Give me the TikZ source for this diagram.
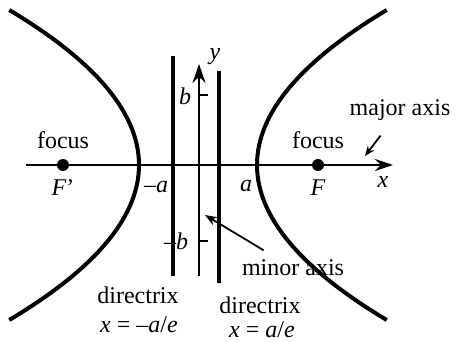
\documentclass[tikz,border=0pt]{standalone}
\usepackage{fontspec}
\setmainfont{Liberation Serif}
\usetikzlibrary{arrows.meta,positioning}

\begin{document}
\begin{tikzpicture}[x=0.5pt,y=-0.5pt,every node/.style={font=\fontsize{12}{14}\selectfont,inner sep=1pt},
    curve/.style={line width=2pt},
    directrix/.style={line width=1.6pt},
    axis/.style={line width=1pt},
    focusdot/.style={circle,fill,inner sep=0pt,minimum size=6pt}]
    \useasboundingbox (0,0) rectangle (455,342);
    % branches
    \draw[curve] plot[domain=-1.55:1.55,samples=61,variable=\t] ({257+54*\t*\t},{165+100*\t});
    \draw[curve] plot[domain=-1.55:1.55,samples=61,variable=\t] ({139-54*\t*\t},{165+100*\t});
    % directrices
    \draw[directrix] (173,56) -- (173,276);
    \draw[directrix] (219,71) -- (219,283);
    % axes
    \coordinate (xstart) at (26,165);
    \coordinate (xend) at (393,165);
    \coordinate (ystart) at (199,276);
    \coordinate (yend) at (199,64);
    \draw[axis,-{Stealth[length=9pt,width=6pt]}] (xstart) -- (xend);
    \draw[axis,-{Stealth[length=9.5pt,width=6.5pt]}] (ystart) -- (yend);
    \draw[axis] (199,95) -- (208,95);
    \draw[axis] (199,241) -- (208,241);
    % foci
    \node[focusdot] (Fleft) at (63,165) {};
    \node[focusdot] (Fright) at (318,165) {};
    \node[above=3.5pt of Fleft] (focusl) {focus};
    \node[below=3pt of Fleft] (Flabl) {\textit{F}’};
    \node[above=3.5pt of Fright] (focusr) {focus};
    \node[below=3pt of Fright] (Flabr) {\textit{F}};
    % axis labels
    \node (xlab) at (383,182) {\textit{x}};
    \node (ylab) at (215,57) {\textit{y}};
    \node (bup) at (185,96) {\textit{b}};
    \node (bdown) at (176,241) {–\textit{b}};
    \node (aleft) at (156,187) {–\textit{a}};
    \node (aright) at (246,186) {\textit{a}};
    % axis names
    \node (major) at (400,110) {major axis};
    \node (minor) at (293,268) {minor axis};
    \coordinate (majortip) at (365,156);
    \coordinate (minortip) at (205,215);
    \draw[line width=0.9pt,shorten <=8pt,-{Stealth[length=5pt,width=4pt]}] (major) -- (majortip);
    \draw[line width=0.9pt,shorten <=7pt,-{Stealth[length=6pt,width=4.5pt]}] (minor) -- (minortip);
    % directrix labels
    \node (dirl) at (138,295) {directrix};
    \node (eql) at (139,325) {\textit{x} = –\textit{a}/\textit{e}};
    \node (dirr) at (260,305) {directrix};
    \node[inner sep=0pt] (eqr) at (262,330) {\textit{x} = \textit{a}/\textit{e}};
\end{tikzpicture}
\end{document}
